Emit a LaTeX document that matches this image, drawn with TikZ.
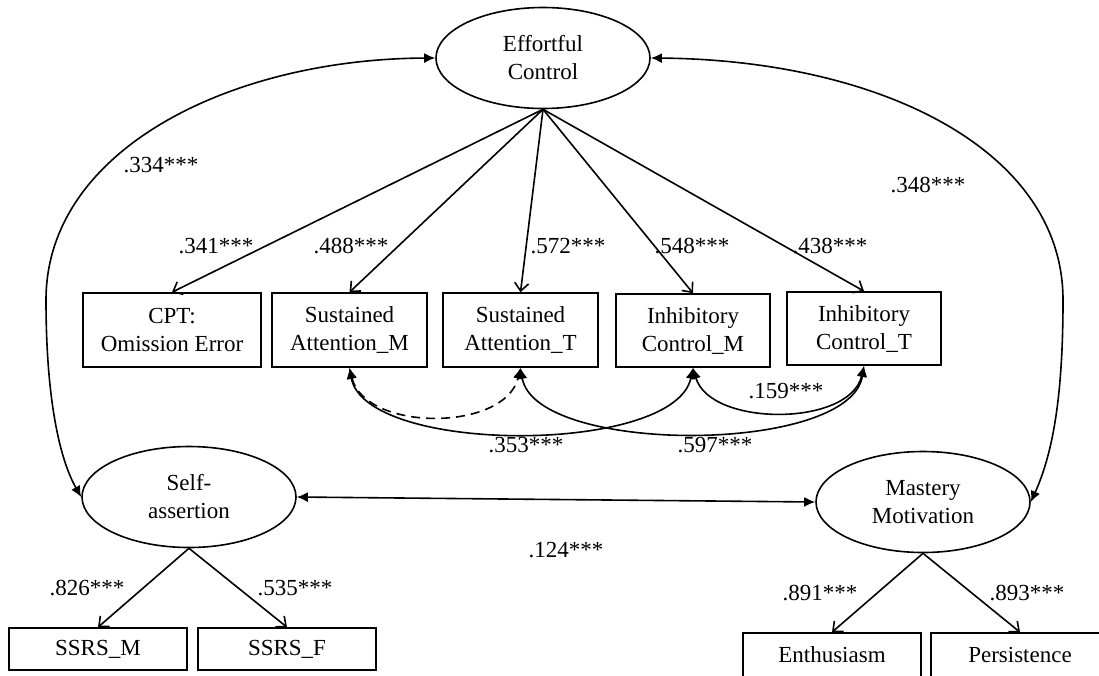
\documentclass[tikz,border=0pt]{standalone}
\usepackage{fontspec}
\setmainfont{Liberation Serif}
\usetikzlibrary{arrows.meta,shapes.geometric}
\begin{document}
\begin{tikzpicture}[x=1pt,y=-1pt,
  every node/.style={font=\fontsize{23}{28}\selectfont},
  latent/.style={draw,ellipse,line width=1.6pt,inner sep=0pt,align=center,
    minimum width=214pt,minimum height=101pt},
  obs/.style={draw,rectangle,line width=1.6pt,inner sep=0pt,align=center},
  load/.style={line width=1.6pt,-{Straight Barb[length=8pt,width=14pt,line width=1.6pt]}},
  corr/.style={line width=1.6pt,{Latex[length=11pt,width=10pt]}-{Latex[length=11pt,width=10pt]}},
  coef/.style={inner sep=0pt}]
\path[use as bounding box,clip] (0,0) rectangle (1099,675);

% latent factors
\node[latent] (ec) at (543,58) {Effortful\\Control};
\node[latent] (sa) at (189,497) {Self-\\assertion};
\node[latent] (mm) at (923,502) {Mastery\\Motivation};

% effortful control indicators
\node[obs,minimum width=178pt,minimum height=74pt] (cpt) at (172,330) {CPT:\\Omission Error};
\node[obs,minimum width=155pt,minimum height=74pt] (sam) at (349.5,330) {Sustained\\Attention\_M};
\node[obs,minimum width=155pt,minimum height=74pt] (sat) at (520.5,330) {Sustained\\Attention\_T};
\node[obs,minimum width=154pt,minimum height=73pt] (icm) at (693,330.5) {Inhibitory\\Control\_M};
\node[obs,minimum width=154pt,minimum height=73pt] (ict) at (864,328.5) {Inhibitory\\Control\_T};

% self-assertion and mastery motivation indicators
\node[obs,minimum width=178pt,minimum height=42pt] (ssm) at (98,649) {SSRS\_M};
\node[obs,minimum width=178pt,minimum height=42pt] (ssf) at (287,649) {SSRS\_F};
\node[obs,minimum width=178pt,text height=29pt,text depth=40pt,anchor=base] (ent) at (832,662) {Enthusiasm};
\node[obs,minimum width=178pt,text height=29pt,text depth=40pt,anchor=base] (per) at (1020,662) {Persistence};

% factor loadings
\draw[load] (ec.south) -- (cpt.north);
\draw[load] (ec.south) -- (sam.north);
\draw[load] (ec.south) -- (sat.north);
\draw[load] (ec.south) -- (icm.north);
\draw[load] (ec.south) -- (ict.north);
\draw[load] (sa.south) -- (ssm.north);
\draw[load] (sa.south) -- (ssf.north);
\draw[load] (mm.south) -- (ent.north);
\draw[load] (mm.south) -- (per.north);

% factor covariances
\draw[corr] (ec.west) .. controls (230,59) and (46,150) .. (46,300)
  .. controls (46,400) and (60,460) .. (sa.west);
\draw[corr] (ec.east) .. controls (880,60) and (1063,150) .. (1063,300)
  .. controls (1063,400) and (1052,455) .. (mm.east);
\draw[corr] (sa.east) -- (mm.west);

% residual covariances among indicators
\draw[corr,dash pattern=on 9pt off 6pt] (sam.south) .. controls (365,432) and (505,432) .. (sat.south);
\draw[corr] (sam.south) .. controls (365,455) and (675,455) .. (icm.south);
\draw[corr] (sat.south) .. controls (535,455) and (850,455) .. (ict.south);
\draw[corr] (icm.south) .. controls (710,427) and (850,427) .. (ict.south);

% coefficients
\node[coef] (c334) at (161,165) {.334***};
\node[coef] (c348) at (928,185) {.348***};
\node[coef] (c341) at (216,246) {.341***};
\node[coef] (c488) at (351,246) {.488***};
\node[coef] (c572) at (568,246) {.572***};
\node[coef] (c548) at (692,246) {.548***};
\node[coef] (c438) at (830,246) {.438***};
\node[coef] (c159) at (786,391) {.159***};
\node[coef] (c353) at (526,445) {.353***};
\node[coef] (c597) at (715,445) {.597***};
\node[coef] (c124) at (566,550) {.124***};
\node[coef] (c826) at (87,588) {.826***};
\node[coef] (c535) at (295,588) {.535***};
\node[coef] (c891) at (820,593) {.891***};
\node[coef] (c893) at (1027,593) {.893***};
\end{tikzpicture}
\end{document}
